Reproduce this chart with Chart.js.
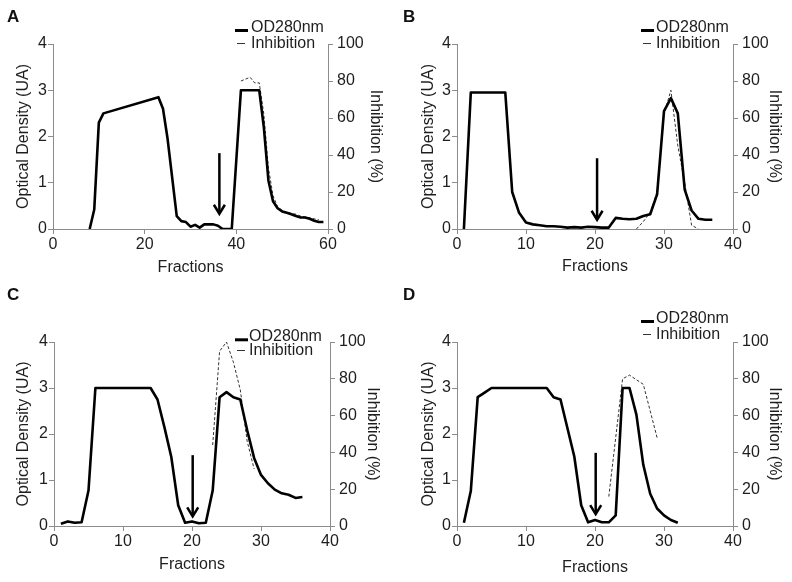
<!DOCTYPE html>
<html><head><meta charset="utf-8">
<script src="https://cdn.jsdelivr.net/npm/chart.js@4.4.1/dist/chart.umd.min.js"></script>
<style>
html,body{margin:0;padding:0;background:#fff}
body{width:792px;height:582px;position:relative;overflow:hidden;font-family:"Liberation Sans",Arial,sans-serif}
.panel{position:absolute;width:396px;height:291px}
.letter{position:absolute;font-weight:bold;font-size:17px;line-height:17px;color:#111;font-family:"Liberation Sans",Arial,sans-serif}
</style></head><body>
<div class="panel" style="left:0;top:0"><canvas id="cA" width="396" height="291"></canvas></div>
<div class="panel" style="left:396px;top:0"><canvas id="cB" width="396" height="291"></canvas></div>
<div class="panel" style="left:0;top:291px"><canvas id="cC" width="396" height="291"></canvas></div>
<div class="panel" style="left:396px;top:291px"><canvas id="cD" width="396" height="291"></canvas></div>
<div class="letter" style="left:7px;top:8px">A</div>
<div class="letter" style="left:403px;top:8px">B</div>
<div class="letter" style="left:7px;top:286px">C</div>
<div class="letter" style="left:403px;top:286px">D</div>
<script>
// ---- text ----
const panelLabels = ['A','B','C','D'];
const seriesNames = ['OD280nm','Inhibition'];
const xTitle = 'Fractions';
const yTitle = 'Optical Density (UA)';
const y1Title = 'Inhibition (%)';

// ---- axis ranges / ticks ----
const xMaxes = [60, 40, 40, 40];
const xSteps = [20, 10, 10, 10];
const yTicks = [0, 1, 2, 3, 4];
const y1Ticks = [0, 20, 40, 60, 80, 100];

// ---- panel A ----
const fracA = [8,9,10,11,23,24,25,27,28,29,30,31,32,33,34,35,36,37,38,39,41,42,43,44,45,46,47,48,49,50,51,52,53,54,55,56,57,58,59];
const odA   = [0,0.42,2.3,2.5,2.85,2.6,1.95,0.28,0.17,0.15,0.05,0.09,0.03,0.1,0.1,0.1,0.07,0,0,0,3,3,3,3,3,2.2,1.05,0.6,0.45,0.38,0.35,0.32,0.28,0.25,0.25,0.22,0.18,0.15,0.15];
const inhFracA = [41,42,43,44,45,46,47,48,49,50,51,52,53,54,55,56,57,58];
const inhA     = [80,81,82,79,79,62,33,18,12,10,9,8.5,8,7,6.5,6,5.5,5];

// ---- panel B ----
const fracB = [1,2,3,4,5,6,7,8,9,10,11,12,13,14,15,16,17,18,19,20,21,22,23,24,25,26,27,28,29,30,31,32,33,34,35,36,37];
const odB   = [0,2.95,2.95,2.95,2.95,2.95,2.95,0.8,0.35,0.14,0.1,0.08,0.06,0.06,0.05,0.03,0.04,0.03,0.05,0.04,0.03,0.03,0.24,0.22,0.21,0.22,0.28,0.32,0.75,2.55,2.83,2.5,0.85,0.4,0.22,0.2,0.2];
const inhFracB = [26,27,28,29,30,31,32,33,34,35];
const inhB     = [0,4,9,20,62,75,45,25,2,0];

// ---- panel C ----
const fracC = [1,2,3,4,5,6,7,8,9,10,11,12,13,14,15,16,17,18,19,20,21,22,23,24,25,26,27,28,29,30,31,32,33,34,35,36];
const odC   = [0.05,0.1,0.07,0.08,0.77,3,3,3,3,3,3,3,3,3,2.75,2.15,1.5,0.45,0.07,0.1,0.06,0.07,0.77,2.8,2.91,2.8,2.75,2.08,1.48,1.11,0.93,0.79,0.71,0.68,0.61,0.63];
const inhFracC = [23,24,25,26,27,28,29];
const inhC     = [44,95,100,89,74,46,31];

// ---- panel D ----
const fracD = [1,2,3,4,5,6,7,8,9,10,11,12,13,14,15,16,17,18,19,20,21,22,23,24,25,26,27,28,29,30,31,32];
const odD   = [0.07,0.76,2.8,2.9,3,3,3,3,3,3,3,3,3,2.8,2.75,2.13,1.51,0.45,0.08,0.13,0.08,0.08,0.23,3,3,2.42,1.33,0.7,0.38,0.23,0.13,0.07];
const inhFracD = [22,24,25,27,29];
const inhD     = [16,80,82,77,48];

// ---- arrows (data units) ----
const arrowX   = [36.3, 20.3, 20.1, 20.1];
const arrowTop = [1.64, 1.53, 1.54, 1.59];
const arrowTip = [0.33, 0.2, 0.21, 0.26];

const fracs = [fracA, fracB, fracC, fracD];
const ods = [odA, odB, odC, odD];
const inhFracs = [inhFracA, inhFracB, inhFracC, inhFracD];
const inhs = [inhA, inhB, inhC, inhD];

// ---- layout (pixels, per panel) ----
const W = 396, H = 291;
const layouts = [
  {left:53, right:328, top:44, bottom:229, yTitlePad:14.4, y1TitlePad:11.4, xTitlePad:13.5, legSx:235, legTx:251, legY:[27.5,43.5]},
  {left:61, right:337, top:44, bottom:229, yTitlePad:22.9, y1TitlePad:8.4,  xTitlePad:15,   legSx:245, legTx:260, legY:[27.5,43.5]},
  {left:54, right:330, top:51, bottom:235, yTitlePad:14.4, y1TitlePad:13.9, xTitlePad:8,    legSx:235, legTx:249, legY:[45.8,59.5]},
  {left:61, right:337, top:51, bottom:235, yTitlePad:22.9, y1TitlePad:8.4,  xTitlePad:5,    legSx:245, legTx:260, legY:[27.5,43.5]}
];

const FONT = {family:'"Liberation Sans", Arial, sans-serif', size:16};
const TXT = '#1e1e1e';
const AXIS = '#8c8c8c';

const arrowPlugin = {
  id:'arrowMark',
  afterDatasetsDraw(chart, args, opts){
    const xs = chart.scales.x, ys = chart.scales.y, ctx = chart.ctx;
    const px = xs.getPixelForValue(opts.x);
    const pTop = ys.getPixelForValue(opts.top);
    const pTip = ys.getPixelForValue(opts.tip);
    ctx.save();
    ctx.strokeStyle = '#000'; ctx.lineWidth = 2.5; ctx.lineCap = 'butt';
    ctx.beginPath(); ctx.moveTo(px, pTop); ctx.lineTo(px, pTip - 1); ctx.stroke();
    ctx.lineJoin = 'miter';
    ctx.beginPath(); ctx.moveTo(px - 5.5, pTip - 9); ctx.lineTo(px, pTip); ctx.lineTo(px + 5.5, pTip - 9); ctx.stroke();
    ctx.restore();
  }
};

const legendPlugin = {
  id:'legendBox',
  afterDraw(chart, args, opts){
    const ctx = chart.ctx;
    const ds = chart.data.datasets;
    ctx.save();
    // OD sample
    ctx.strokeStyle = ds[0].borderColor; ctx.lineWidth = 3;
    ctx.beginPath(); ctx.moveTo(opts.sx, opts.y[0] + 3); ctx.lineTo(opts.sx + 13, opts.y[0] + 3); ctx.stroke();
    // Inhibition sample
    ctx.strokeStyle = '#333'; ctx.lineWidth = 1;
    ctx.beginPath(); ctx.moveTo(opts.sx + 2, opts.y[1]); ctx.lineTo(opts.sx + 10, opts.y[1]); ctx.stroke();
    ctx.fillStyle = TXT;
    ctx.font = '16px "Liberation Sans", Arial, sans-serif';
    ctx.textBaseline = 'middle'; ctx.textAlign = 'left';
    ctx.fillText(ds[0].label, opts.tx, opts.y[0]);
    ctx.fillText(ds[1].label, opts.tx, opts.y[1]);
    ctx.restore();
  }
};

['cA','cB','cC','cD'].forEach((id, i) => {
  const L = layouts[i];
  const axisCommon = {
    grid:{drawOnChartArea:false, drawTicks:true, tickLength:5, tickColor:AXIS, color:AXIS},
    border:{display:true, color:AXIS, width:1}
  };
  new Chart(document.getElementById(id), {
    type:'line',
    data:{datasets:[
      {label:seriesNames[0], data:fracs[i].map((f,k)=>({x:f, y:ods[i][k]})), yAxisID:'y',
       borderColor:'#000', borderWidth:2.6, pointRadius:0, tension:0, fill:false, borderJoinStyle:'round'},
      {label:seriesNames[1], data:inhFracs[i].map((f,k)=>({x:f, y:inhs[i][k]})), yAxisID:'y1',
       borderColor:'#333', borderWidth:1, borderDash:[3,2], pointRadius:0, tension:0, fill:false}
    ]},
    options:{
      responsive:false, animation:false, devicePixelRatio:1,
      layout:{padding:{top:L.top, left:0, right:0, bottom:0}},
      plugins:{
        legend:{display:false}, tooltip:{enabled:false}, title:{display:false},
        arrowMark:{x:arrowX[i], top:arrowTop[i], tip:arrowTip[i]},
        legendBox:{sx:L.legSx, tx:L.legTx, y:L.legY}
      },
      scales:{
        x:{type:'linear', position:'bottom', min:0, max:xMaxes[i],
           ticks:{stepSize:xSteps[i], font:FONT, color:TXT, padding:1, maxRotation:0, autoSkip:false},
           ...axisCommon,
           title:{display:true, text:xTitle, font:FONT, color:TXT, padding:{top:0, bottom:L.xTitlePad}},
           afterFit:s=>{ s.height = H - L.bottom; }},
        y:{type:'linear', position:'left', min:0, max:4,
           afterBuildTicks:s=>{ s.ticks = yTicks.map(v=>({value:v})); },
           ticks:{font:FONT, color:TXT, padding:1},
           ...axisCommon,
           title:{display:true, text:yTitle, font:FONT, color:TXT, padding:{top:L.yTitlePad, bottom:0}},
           afterFit:s=>{ s.width = L.left; }},
        y1:{type:'linear', position:'right', min:0, max:100,
           afterBuildTicks:s=>{ s.ticks = y1Ticks.map(v=>({value:v})); },
           ticks:{font:FONT, color:TXT, padding:4},
           ...axisCommon,
           title:{display:true, text:y1Title, font:FONT, color:TXT, padding:{top:L.y1TitlePad, bottom:0}},
           afterFit:s=>{ s.width = W - L.right; }}
      }
    },
    plugins:[arrowPlugin, legendPlugin]
  });
});
</script>
</body></html>
